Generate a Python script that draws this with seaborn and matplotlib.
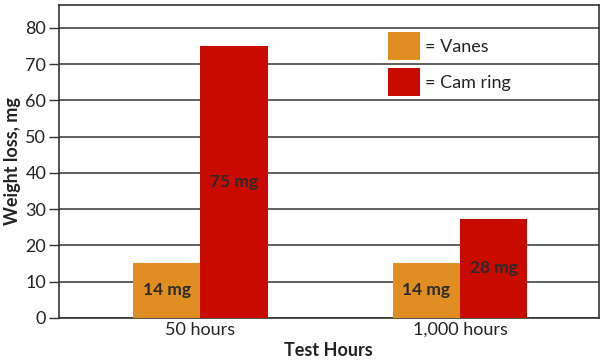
import pandas as pd
import matplotlib.pyplot as plt
import seaborn as sns

# data
hours = ['50 hours', '50 hours', '1,000 hours', '1,000 hours']
parts = ['Vanes', 'Cam ring', 'Vanes', 'Cam ring']
loss = [15.2, 75.0, 15.2, 27.3]
bar_labels = ['14 mg', '75 mg', '14 mg', '28 mg']
legend_labels = ['= Vanes', '= Cam ring']
colors = ['#E08E22', '#C80A00']

df = pd.DataFrame({'Hours': hours, 'Part': parts, 'Loss': loss})

sns.set_style('white')
plt.rcParams['font.family'] = ['Lato', 'DejaVu Sans']

fig = plt.figure(figsize=(6, 3.6), dpi=100)
ax = fig.add_axes([0.098, 0.117, 0.9, 0.869])

sns.barplot(data=df, x='Hours', y='Loss', hue='Part', palette=colors,
            width=0.52, linewidth=0, saturation=1, ax=ax, zorder=3)

# bar labels in the middle of each bar
bars = [p for p in ax.patches if p.get_height() > 0]
bars = sorted(bars, key=lambda b: b.get_x())
for b, lab in zip(bars, bar_labels):
    ax.text(b.get_x() + b.get_width() / 2, b.get_height() / 2, lab,
            ha='center', va='center', fontsize=12.5, fontweight='bold',
            color='#2b2b2b', zorder=4)

ax.set_ylim(0, 86.3)
ax.set_xlim(-0.546, 1.535)
ax.set_yticks(range(0, 81, 10))
ax.yaxis.grid(True, color='#333333', linewidth=1.1, zorder=0)
ax.set_axisbelow(True)
for s in ax.spines.values():
    s.set_color('#333333')
    s.set_linewidth(1.2)
ax.tick_params(axis='y', direction='out', length=7, width=1, color='#333333',
               labelsize=13, labelcolor='#222222', left=True, pad=2)
ax.tick_params(axis='x', length=0, labelsize=13, labelcolor='#222222', pad=3)

ax.set_xlabel('Test Hours', fontsize=13, fontweight='bold', color='#222222', labelpad=3)
ax.set_ylabel('Weight loss, mg', fontsize=13, fontweight='bold', color='#222222', labelpad=3)

handles, _ = ax.get_legend_handles_labels()
ax.legend(handles, legend_labels, loc='upper left', bbox_to_anchor=(0.609, 0.914),
          frameon=False, borderpad=0, borderaxespad=0, handlelength=1.78,
          handleheight=2.02, handletextpad=0.28, labelspacing=0.45,
          fontsize=13, labelcolor='#222222')

plt.savefig('out.png', dpi=100)
